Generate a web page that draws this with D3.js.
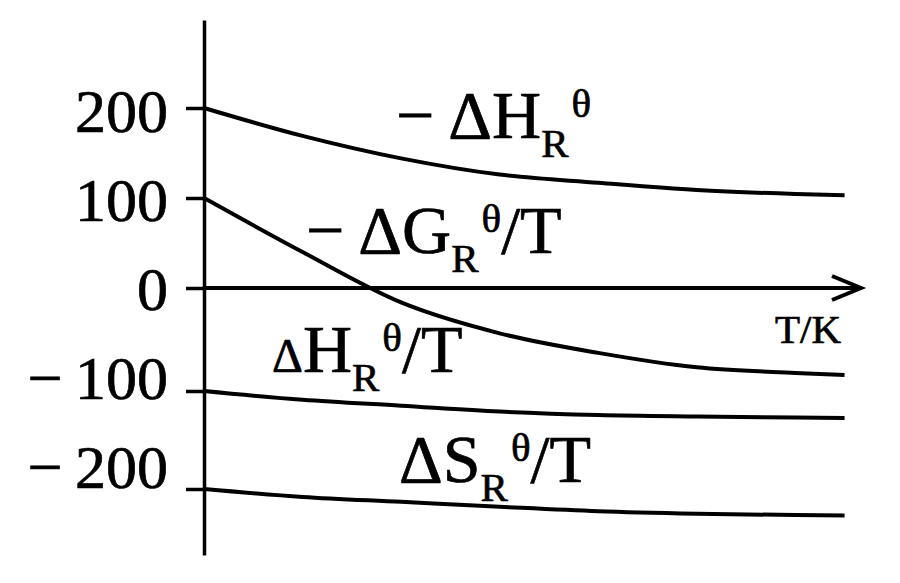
<!DOCTYPE html>
<html>
<head>
<meta charset="utf-8">
<script src="https://cdn.jsdelivr.net/npm/d3@7"></script>
<style>
  body { margin: 0; background: #fff; }
  text { font-family: "Liberation Serif", "DejaVu Serif", serif; fill: #000; stroke: #000; stroke-width: 0.7px; }
</style>
</head>
<body>
<div id="chart"></div>
<script>
// temperature axis (arbitrary units, no ticks in the original)
var temps = [0, 150, 300, 450, 600, 750, 900, 975];

// curves
var negDeltaH   = [200, 169, 144, 126, 117, 109, 104.5, 103];
var negDeltaGT  = [100, 40, -14, -44, -63, -77, -82.5, -84.5];
var deltaHT     = [-100, -109, -115, -121, -124.5, -126, -127, -127.5];
var deltaST     = [-200, -208, -213, -218, -222.5, -225, -226.5, -227];

var yTicks = [200, 100, 0, -100, -200];

function init(){
    var w = 900;
    var h = 583;

    var svg = d3.select("#chart")
                .append("svg")
                .attr("width", w)
                .attr("height", h);

    svg.append("rect")
        .attr("width", w)
        .attr("height", h)
        .attr("fill", "#fff");

    var x = d3.scaleLinear()
                .domain([0, 1000])
                .range([204, 861]);

    // the hand drawn axis is not evenly spaced, so the scale is piecewise
    var y = d3.scaleLinear()
                .domain([-267, -200, -100, 0, 100, 200, 298])
                .range([555, 489, 391, 288, 198, 108, 20]);

    // the tick labels sit on an even grid of their own
    var labelY = d3.scaleLinear()
                .domain([-200, 200])
                .range([466, 110]);

    var yAxis = d3.axisLeft(y)
                .tickValues(yTicks)
                .tickSizeInner(18)
                .tickSizeOuter(0)
                .tickPadding(18)
                .tickFormat(function(d){
                    return d < 0 ? "\u2212\u2009" + Math.abs(d) : d;
                });

    var ga = svg.append("g")
        .attr("transform", "translate(" + x(0) + ",0)")
        .call(yAxis);

    ga.select(".domain")
        .attr("stroke", "#000")
        .attr("stroke-width", 3.5);
    ga.selectAll(".tick line")
        .attr("stroke", "#000")
        .attr("stroke-width", 3.5);
    ga.selectAll(".tick text")
        .attr("font-size", 62)
        .attr("font-family", "Liberation Serif, serif")
        .attr("fill", "#000")
        .attr("y", function(d){ return labelY(d) - y(d); })
        .attr("dy", "0.34em");

    // T axis with arrow
    svg.append("line")
        .attr("x1", x(0))
        .attr("x2", x(1000) - 2)
        .attr("y1", y(0))
        .attr("y2", y(0))
        .attr("stroke", "#000")
        .attr("stroke-width", 4);

    svg.append("path")
        .attr("d", "M" + (x(1000) - 29) + "," + (y(0) - 12) +
                   "L" + x(1000) + "," + y(0) +
                   "L" + (x(1000) - 29) + "," + (y(0) + 12))
        .attr("fill", "none")
        .attr("stroke", "#000")
        .attr("stroke-width", 4);

    svg.append("text")
        .attr("x", 775)
        .attr("y", 343)
        .attr("font-size", 41)
        .text("T/K");

    // curves
    var series = [negDeltaH, negDeltaGT, deltaHT, deltaST];
    var line = d3.line()
                .x(function(d, i){ return x(temps[i]); })
                .y(function(d){ return y(d); })
                .curve(d3.curveMonotoneX);

    svg.selectAll("path.curve")
        .data(series)
        .enter()
        .append("path")
        .attr("class", "curve")
        .attr("d", line)
        .attr("fill", "none")
        .attr("stroke", "#000")
        .attr("stroke-width", 4);

    // curve labels: main part, subscript R, superscript theta, tail
    function label(px, py, minus, big, tail, bigSize){
        var t = svg.append("text")
                    .attr("x", px)
                    .attr("y", py)
                    .attr("font-size", 68);
        if (minus) {
            t.append("tspan").text("\u2212");
            t.append("tspan").attr("dx", 14).text(big);
        } else {
            t.append("tspan").attr("font-size", bigSize || 68).text(big.charAt(0));
            t.append("tspan").text(big.slice(1));
        }
        t.append("tspan").attr("font-size", 41).attr("dy", 19).text("R");
        t.append("tspan").attr("font-size", 41).attr("dy", -40).attr("dx", 3).text("\u03b8");
        t.append("tspan").attr("dy", 21).text(tail);
    }

    label(396, 138, true, "\u0394H", "");
    label(306, 253, true, "\u0394G", "/T");
    label(272, 372, false, "\u0394H", "/T", 48);
    label(399, 482, false, "\u0394S", "/T");
}
window.onload = init;
</script>
</body>
</html>
